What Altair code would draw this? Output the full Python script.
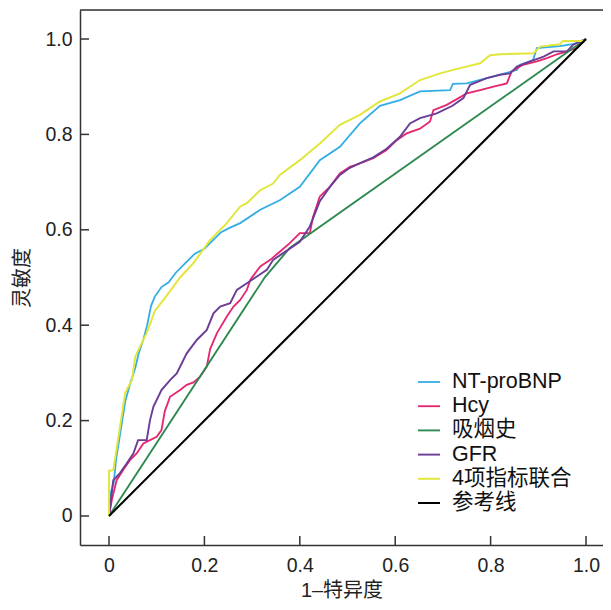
import altair as alt
import pandas as pd

FONT = "Liberation Sans, Noto Sans CJK SC, sans-serif"

series_names = ["NT-proBNP", "Hcy", "吸烟史", "GFR", "4项指标联合", "参考线"]
series_colors = ["#33ade4", "#e6266f", "#2e8a4f", "#6b3d97", "#e2e63a", "#000000"]
series_widths = [1.8, 2.0, 1.8, 1.8, 2.0, 2.6]

nt_x = [0, 0.004, 0.010, 0.015, 0.023, 0.034, 0.045, 0.055, 0.062, 0.072, 0.080, 0.088, 0.096,
        0.110, 0.125, 0.140, 0.160, 0.180, 0.200, 0.215, 0.235, 0.255, 0.275, 0.317, 0.358,
        0.400, 0.442, 0.484, 0.526, 0.568, 0.610, 0.652, 0.715, 0.721, 0.750, 0.800, 0.855,
        0.862, 0.889, 0.897, 0.945, 0.975, 1.0]
nt_y = [0, 0.050, 0.070, 0.120, 0.170, 0.240, 0.280, 0.310, 0.340, 0.370, 0.400, 0.440, 0.460,
        0.480, 0.490, 0.510, 0.530, 0.550, 0.560, 0.575, 0.595, 0.605, 0.614, 0.642, 0.662,
        0.690, 0.746, 0.774, 0.823, 0.860, 0.872, 0.890, 0.893, 0.906, 0.907, 0.920, 0.935,
        0.946, 0.956, 0.981, 0.985, 0.990, 1.0]

hcy_x = [0, 0.006, 0.016, 0.034, 0.044, 0.058, 0.072, 0.086, 0.100, 0.110, 0.117, 0.128, 0.149,
         0.163, 0.177, 0.191, 0.205, 0.212, 0.226, 0.247, 0.261, 0.275, 0.289, 0.296, 0.317,
         0.338, 0.358, 0.379, 0.400, 0.421, 0.428, 0.442, 0.463, 0.484, 0.505, 0.526, 0.554,
         0.582, 0.603, 0.624, 0.652, 0.673, 0.680, 0.708, 0.750, 0.778, 0.806, 0.834, 0.844,
         0.868, 0.897, 0.918, 0.939, 0.960, 0.981, 1.0]
hcy_y = [0, 0.034, 0.075, 0.103, 0.117, 0.131, 0.152, 0.159, 0.166, 0.180, 0.220, 0.250, 0.264,
         0.275, 0.280, 0.292, 0.313, 0.350, 0.383, 0.418, 0.439, 0.453, 0.474, 0.495, 0.523,
         0.537, 0.554, 0.572, 0.593, 0.593, 0.628, 0.670, 0.690, 0.718, 0.732, 0.739, 0.750,
         0.767, 0.788, 0.802, 0.812, 0.827, 0.851, 0.862, 0.886, 0.893, 0.900, 0.907, 0.932,
         0.946, 0.953, 0.960, 0.968, 0.974, 0.981, 1.0]

smk_x = [0, 0.327, 0.379, 1.0]
smk_y = [0, 0.501, 0.562, 1.0]

gfr_x = [0, 0.009, 0.023, 0.037, 0.051, 0.061, 0.079, 0.086, 0.093, 0.110, 0.128, 0.142, 0.163,
         0.184, 0.205, 0.219, 0.233, 0.254, 0.268, 0.289, 0.310, 0.331, 0.344, 0.365, 0.400,
         0.421, 0.442, 0.463, 0.484, 0.505, 0.526, 0.554, 0.582, 0.610, 0.631, 0.652, 0.687,
         0.720, 0.743, 0.757, 0.792, 0.820, 0.841, 0.855, 0.883, 0.911, 0.932, 0.960, 0.973, 1.0]
gfr_y = [0, 0.075, 0.090, 0.110, 0.131, 0.159, 0.159, 0.201, 0.229, 0.264, 0.285, 0.299, 0.341,
         0.369, 0.390, 0.425, 0.439, 0.446, 0.474, 0.488, 0.502, 0.516, 0.537, 0.551, 0.575,
         0.607, 0.660, 0.690, 0.715, 0.730, 0.740, 0.752, 0.770, 0.795, 0.823, 0.834, 0.844,
         0.860, 0.876, 0.904, 0.918, 0.925, 0.928, 0.942, 0.953, 0.963, 0.974, 0.974, 0.988, 1.0]

comb_x = [0, 0, 0.009, 0.023, 0.034, 0.048, 0.055, 0.065, 0.079, 0.089, 0.096, 0.121, 0.149,
          0.177, 0.212, 0.247, 0.275, 0.289, 0.317, 0.344, 0.358, 0.400, 0.442, 0.484, 0.526,
          0.568, 0.610, 0.652, 0.694, 0.736, 0.778, 0.799, 0.820, 0.890, 0.904, 0.945, 0.952,
          0.994, 1.0]
comb_y = [0, 0.095, 0.096, 0.187, 0.258, 0.285, 0.334, 0.355, 0.384, 0.410, 0.430, 0.462, 0.500,
          0.530, 0.579, 0.614, 0.649, 0.656, 0.683, 0.697, 0.715, 0.746, 0.781, 0.820, 0.841,
          0.869, 0.886, 0.914, 0.928, 0.939, 0.949, 0.966, 0.968, 0.970, 0.984, 0.989, 0.996,
          0.996, 1.0]

ref_x = [0, 1.0]
ref_y = [0, 1.0]

tick_values = [0, 0.2, 0.4, 0.6, 0.8, 1.0]

rows = []
for name, xs, ys in [("NT-proBNP", nt_x, nt_y), ("Hcy", hcy_x, hcy_y), ("吸烟史", smk_x, smk_y),
                     ("GFR", gfr_x, gfr_y), ("4项指标联合", comb_x, comb_y), ("参考线", ref_x, ref_y)]:
    for i, (a, b) in enumerate(zip(xs, ys)):
        rows.append({"series": name, "fpr": a, "tpr": b, "idx": i})
df = pd.DataFrame(rows)
ticks_df = pd.DataFrame({"v": tick_values})

W, H = 523, 535
xscale = alt.Scale(domain=[-0.0608, 1.0356], nice=False, zero=False)
yscale = alt.Scale(domain=[-0.0608, 1.0608], nice=False, zero=False)
label_expr = "datum.value == 0 ? '0' : format(datum.value, '.1f')"

xaxis = alt.Axis(values=tick_values, labelExpr=label_expr, ticks=False, grid=False,
                 domainColor="#333333", domainWidth=1.5, labelPadding=11,
                 labelFontSize=19.5, labelColor="#222222", labelFont=FONT,
                 title="1–特异度", titleFont=FONT, titleFontSize=20, titleFontWeight="normal",
                 titleColor="#222222", titlePadding=6)
yaxis = alt.Axis(values=tick_values, labelExpr=label_expr, ticks=False, grid=False,
                 domainColor="#333333", domainWidth=1.5, labelPadding=8,
                 labelFontSize=19.5, labelColor="#222222", labelFont=FONT,
                 title="灵敏度", titleFont=FONT, titleFontSize=20, titleFontWeight="normal",
                 titleColor="#222222", titlePadding=12)

lines = alt.Chart(df).mark_line().encode(
    x=alt.X("fpr:Q", scale=xscale, axis=xaxis),
    y=alt.Y("tpr:Q", scale=yscale, axis=yaxis),
    color=alt.Color("series:N", scale=alt.Scale(domain=series_names, range=series_colors),
                    sort=series_names,
                    legend=alt.Legend(title=None, orient="none", legendX=337, legendY=360,
                                      symbolType="stroke", symbolSize=484, symbolStrokeWidth=2.4,
                                      labelFont=FONT, labelFontSize=21.5, labelColor="#111111",
                                      labelOffset=11, rowPadding=1.2, padding=0)),
    strokeWidth=alt.StrokeWidth("series:N", scale=alt.Scale(domain=series_names, range=series_widths),
                                legend=None),
    order="idx:Q",
)

xticks = alt.Chart(ticks_df).mark_rule(color="#333333", strokeWidth=1.5).encode(
    x=alt.X("v:Q", scale=xscale, axis=xaxis),
    y=alt.value(H), y2=alt.value(H - 9),
)
yticks = alt.Chart(ticks_df).mark_rule(color="#333333", strokeWidth=1.5).encode(
    y=alt.Y("v:Q", scale=yscale, axis=yaxis),
    x=alt.value(0), x2=alt.value(9),
)
topline = alt.Chart(ticks_df.head(1)).mark_rule(color="#333333", strokeWidth=1.5).encode(
    x=alt.value(0), x2=alt.value(W), y=alt.value(0),
)

chart = alt.layer(lines, xticks, yticks, topline).properties(
    width=W, height=H,
    autosize=alt.AutoSizeParams(type="none"),
    padding={"left": 72, "top": 2, "right": 0, "bottom": 57},
).configure_view(stroke=None).configure(background="white")

chart.save("out.html", embed_options={"renderer": "svg", "actions": False})
